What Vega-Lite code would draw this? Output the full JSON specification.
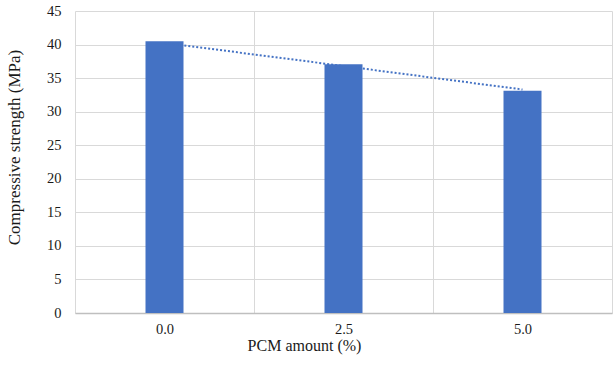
{
  "$schema": "https://vega.github.io/schema/vega-lite/v6.json",
  "width": 537,
  "height": 302,
  "autosize": {"type": "none"},
  "padding": {"left": 75, "top": 11, "right": 2, "bottom": 56},
  "background": "white",
  "config": {
    "view": {"stroke": null},
    "font": "Liberation Serif",
    "axis": {"labelFont": "Liberation Serif", "titleFont": "Liberation Serif", "labelFontSize": 14.5, "titleFontSize": 16, "titleFontWeight": "normal", "labelColor": "#1a1a1a", "titleColor": "#1a1a1a", "gridColor": "#d9d9d9", "gridWidth": 1}
  },
  "data": {
    "values": [
      {"pcm": "0.0", "strength": 40.5, "trend": 40.25},
      {"pcm": "2.5", "strength": 37.05, "trend": 36.8},
      {"pcm": "5.0", "strength": 33.1, "trend": 33.3}
    ]
  },
  "encoding": {
    "x": {
      "field": "pcm",
      "type": "ordinal",
      "scale": {"paddingInner": 0, "paddingOuter": 0},
      "axis": {
        "title": "PCM amount (%)",
        "labelAngle": 0,
        "ticks": false,
        "tickBand": "extent",
        "grid": true,
        "domainColor": "#bfbfbf",
        "domainWidth": 1.5,
        "labelPadding": 9,
        "titlePadding": 2,
        "titleX": 229,
        "titleAnchor": "middle"
      }
    }
  },
  "resolve": {"axis": {"y": "independent"}},
  "layer": [
    {
      "mark": {"type": "bar", "size": 38, "color": "#4472C4"},
      "encoding": {
        "y": {
          "field": "strength",
          "type": "quantitative",
          "scale": {"domain": [0, 45], "nice": false},
          "axis": {
            "title": "Compressive strength (MPa)",
            "titleFontSize": 17,
            "values": [0, 5, 10, 15, 20, 25, 30, 35, 40, 45],
            "labelOverlap": false,
            "domain": false,
            "ticks": false,
            "labelPadding": 14,
            "titleX": -61,
            "titleY": 136,
            "titleAngle": 270,
            "titleAlign": "center",
            "titleBaseline": "middle",
            "titleAnchor": null
          }
        }
      }
    },
    {
      "mark": {"type": "line", "color": "#4472C4", "strokeDash": [2, 2], "strokeWidth": 2},
      "encoding": {
        "y": {"field": "trend", "type": "quantitative", "axis": null}
      }
    }
  ]
}
